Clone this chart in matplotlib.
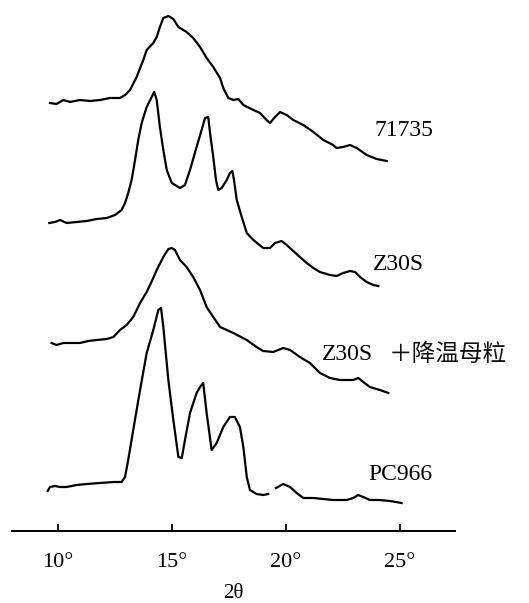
import numpy as np
import matplotlib.pyplot as plt

# 2-theta (deg) and stacked intensity (a.u.)
tt_71735 = [9.65, 9.94, 10.23, 10.53, 10.96, 11.40, 11.84, 12.28, 12.72, 12.94, 13.16, 13.45, 13.74,
            13.89, 14.18, 14.33, 14.47, 14.62, 14.84, 15.06, 15.28, 15.64, 15.93, 16.23, 16.52, 16.81,
            17.11, 17.25, 17.47, 17.69, 17.91, 18.13, 18.57, 18.86, 19.15, 19.30, 19.52, 19.74, 20.03,
            20.32, 20.76, 21.20, 21.64, 22.07, 22.22, 22.51, 22.81, 23.10, 23.54, 23.98, 24.42]
i_71735 = [428, 427, 431, 429, 431, 430, 431, 433, 433, 436, 441, 454, 471,
           481, 488, 494, 504, 513, 515, 512, 504, 499, 493, 484, 473, 464,
           453, 443, 433, 431, 432, 426, 421, 418, 411, 408, 414, 419, 416,
           411, 406, 399, 391, 386, 383, 384, 386, 383, 376, 372, 370]

tt_z30s = [9.62, 9.87, 10.09, 10.38, 10.82, 11.26, 11.70, 12.14, 12.50, 12.79, 12.94, 13.08, 13.23,
           13.38, 13.52, 13.67, 13.89, 14.11, 14.22, 14.33, 14.47, 14.62, 14.77, 14.99, 15.35, 15.57,
           15.79, 16.08, 16.30, 16.45, 16.59, 16.67, 16.81, 16.93, 17.03, 17.18, 17.40, 17.54, 17.65,
           17.72, 17.84, 18.06, 18.28, 18.57, 19.00, 19.30, 19.52, 19.81, 20.03, 20.32, 20.61, 20.91,
           21.20, 21.49, 21.93, 22.22, 22.51, 22.81, 23.03, 23.25, 23.54, 23.83, 24.05]
i_z30s = [308, 309, 311, 308, 309, 310, 312, 313, 316, 321, 328, 338, 351,
          371, 391, 408, 424, 434, 439, 431, 404, 381, 361, 348, 343, 346,
          361, 384, 401, 413, 414, 398, 374, 351, 341, 343, 351, 358, 360,
          351, 331, 314, 298, 291, 283, 283, 288, 290, 286, 280, 274, 268,
          263, 259, 256, 255, 258, 260, 259, 254, 249, 246, 245]

tt_mix = [9.72, 9.94, 10.23, 10.53, 10.96, 11.33, 11.70, 12.14, 12.43, 12.72, 13.01, 13.30, 13.60,
          13.89, 14.12, 14.33, 14.62, 14.84, 14.99, 15.13, 15.35, 15.64, 15.93, 16.23, 16.52, 16.81,
          17.11, 17.69, 18.28, 18.71, 19.00, 19.44, 19.88, 20.18, 20.61, 21.05, 21.49, 21.93, 22.37,
          22.95, 23.17, 23.39, 23.68, 24.12, 24.49]
i_mix = [188, 186, 188, 188, 188, 190, 191, 192, 194, 201, 206, 214, 228,
         239, 250, 261, 274, 282, 283, 281, 271, 264, 254, 241, 224, 214,
         204, 198, 191, 184, 180, 179, 183, 181, 174, 168, 158, 153, 151,
         151, 153, 149, 144, 141, 138]

tt_pc966 = [9.55, 9.65, 9.87, 10.09, 10.38, 10.82, 11.26, 11.84, 12.43, 12.79, 12.94, 13.08, 13.30,
            13.60, 13.89, 14.18, 14.40, 14.52, 14.62, 14.84, 15.06, 15.28, 15.43, 15.57, 15.79, 16.08,
            16.23, 16.37, 16.52, 16.74, 16.96, 17.25, 17.54, 17.76, 17.98, 18.13, 18.28, 18.42, 18.71,
            19.00, 19.22, np.nan, 19.56, 19.88, 20.18, 20.47, 20.76, 21.20, 21.64, 22.07, 22.66, 22.95,
            23.17, 23.39, 23.68, 24.12, 24.56, 25.07]
i_pc966 = [40, 44, 45, 44, 44, 46, 47, 48, 49, 49, 54, 71, 101,
           141, 178, 201, 221, 223, 204, 151, 111, 74, 73, 91, 118, 138,
           144, 148, 118, 81, 88, 104, 114, 114, 104, 84, 54, 41, 37,
           36, 37, np.nan, 43, 47, 44, 38, 33, 33, 32, 31, 31, 33,
           36, 34, 31, 31, 30, 28]

names = ["71735", "Z30S", "Z30S", "PC966"]
label_x = [23.90, 23.82, 21.58, 23.60]
label_y = [401, 266, 177, 57]
additive = "＋降温母粒"   # second part of the third label

ticks = [10, 15, 20, 25]
tick_labels = ["10°", "15°", "20°", "25°"]

plt.rcParams['font.family'] = ['Liberation Serif', 'Noto Sans CJK SC', 'DejaVu Sans']

fig = plt.figure(figsize=(5.29, 6.03), dpi=100)
ax = fig.add_axes([0, 0, 1, 1])

for tt, ii in [(tt_71735, i_71735), (tt_z30s, i_z30s), (tt_mix, i_mix), (tt_pc966, i_pc966)]:
    ax.plot(tt, ii, color='black', lw=1.6, solid_joinstyle='round')

for name, x, y in zip(names, label_x, label_y):
    ax.text(x, y, name, fontsize=17, va='center', ha='left')
ax.text(24.50, label_y[2], additive, fontsize=17, va='center', ha='left',
        family=['Noto Sans CJK SC'], color='#111111')

ax.set_xlim(7.456, 30.66)
ax.set_ylim(-72, 531)

for s in ['left', 'right', 'top']:
    ax.spines[s].set_visible(False)
ax.spines['bottom'].set_position(('data', 0))
ax.spines['bottom'].set_bounds(7.98, 27.41)
ax.spines['bottom'].set_linewidth(1.4)
ax.set_yticks([])
ax.set_xticks(ticks)
ax.set_xticklabels(tick_labels, fontsize=16)
ax.tick_params(axis='x', direction='in', length=5, width=1.3, pad=16)

ax.text(17.68, -62, "2θ", fontsize=15, ha='center', va='center')

fig.savefig("out.png", dpi=100)
